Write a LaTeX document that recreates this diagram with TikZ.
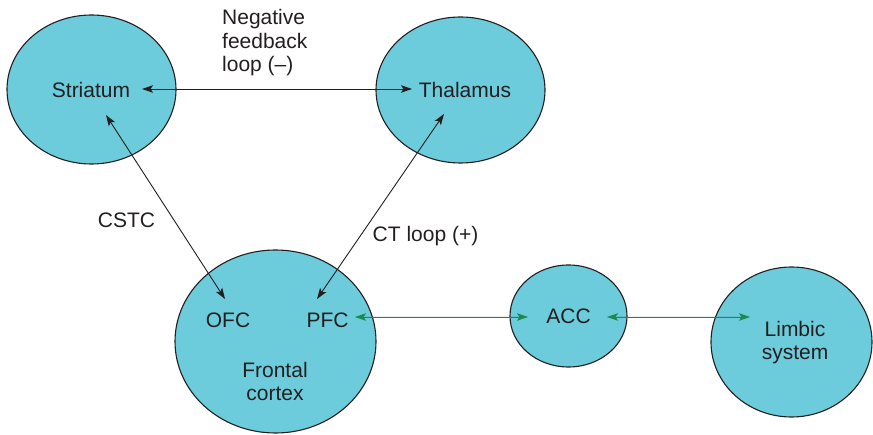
\documentclass[tikz,border=0pt]{standalone}
\usepackage{fontspec}
\setmainfont{Liberation Sans}
\usetikzlibrary{shapes.geometric,arrows.meta}
\definecolor{fillc}{RGB}{108,204,220}
\definecolor{linec}{RGB}{35,31,32}
\definecolor{greenc}{RGB}{28,138,72}
\begin{document}
\begin{tikzpicture}[x=1pt,y=-1pt,
  region/.style={ellipse, draw=linec, fill=fillc, line width=1.1pt, inner sep=0pt},
  lbl/.style={font=\fontsize{21}{23.5}\selectfont, text=linec, align=center, inner sep=0pt},
  arr/.style={draw=linec, line width=0.9pt, {Stealth[length=11pt,width=7.5pt,inset=2.5pt]}-{Stealth[length=11pt,width=7.5pt,inset=2.5pt]}},
  garr/.style={arr, draw=greenc, fill=greenc}]
\useasboundingbox (0,0) rectangle (873,435);
% regions
\node[region, minimum width=169pt, minimum height=149pt] (striatum) at (91.5,89.5) {};
\node[region, minimum width=169pt, minimum height=146pt] (thalamus) at (460.5,90) {};
\node[region, minimum width=201pt, minimum height=183pt] (frontal) at (275.5,341.5) {};
\node[region, minimum width=117pt, minimum height=102pt] (acc) at (568.5,316) {};
\node[region, minimum width=161pt, minimum height=150pt] (limbic) at (791.5,342) {};
% labels
\node[lbl] (tStriatum) at (91,90) {Striatum};
\node[lbl] (tThalamus) at (465,90) {Thalamus};
\node[lbl] (tOFC) at (228,320.5) {OFC};
\node[lbl] (tPFC) at (327.5,320.5) {PFC};
\node[lbl] (tFrontal) at (275,381.5) {Frontal\\cortex};
\node[lbl] (tACC) at (568.5,316) {ACC};
\node[lbl] (tLimbic) at (795,342.5) {Limbic\\system};
\node[lbl] (tCSTC) at (126.5,220) {CSTC};
\node[lbl] (tCT) at (425.5,236.5) {CT loop (+)};
\node[lbl, align=left, anchor=north west] (tNeg) at (222,9.5) {Negative\\feedback\\loop (–)};
% connector ends
\coordinate (sR) at (142,89);
\coordinate (tL) at (412,89);
\coordinate (sB) at (106,115);
\coordinate (oT) at (225,299);
\coordinate (tB) at (444,114);
\coordinate (pT) at (317,299);
\coordinate (pR) at (355,317);
\coordinate (aL) at (528,317);
\coordinate (aR) at (607,317);
\coordinate (lL) at (750,317);
% connectors
\draw[arr] (sR) -- (tL);
\draw[arr] (sB) -- (oT);
\draw[arr] (tB) -- (pT);
\draw[garr] (pR) -- (aL);
\draw[garr] (aR) -- (lL);
\end{tikzpicture}
\end{document}
